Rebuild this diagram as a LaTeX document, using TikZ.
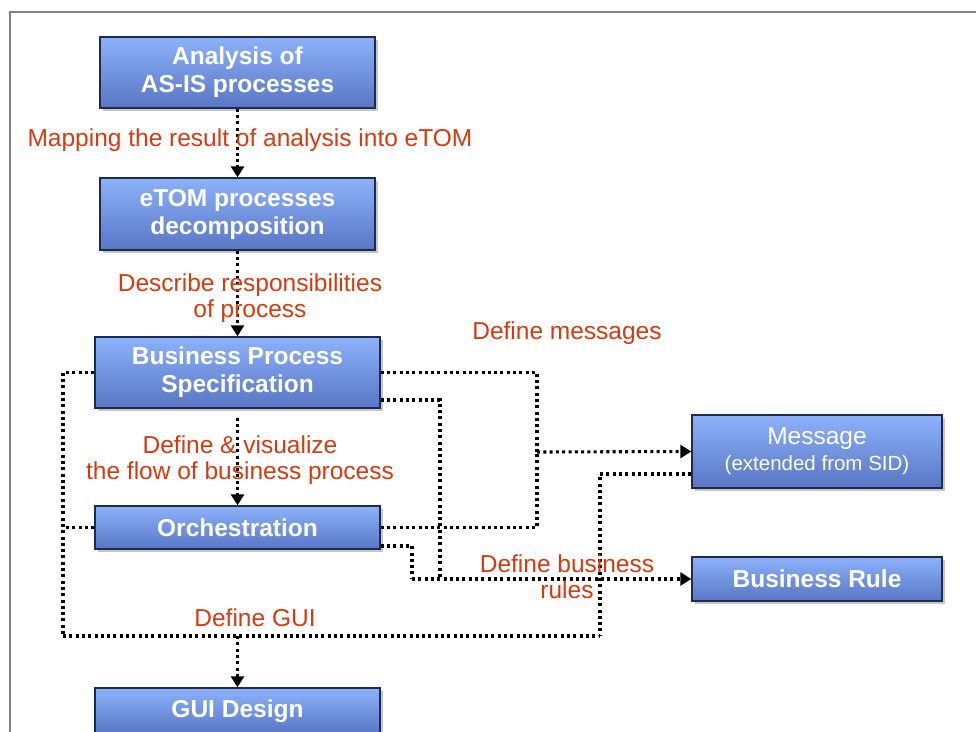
\documentclass[tikz,border=0pt]{standalone}
\usepackage{fontspec}
\setmainfont{Liberation Sans}
\usetikzlibrary{arrows.meta,shadows}

\definecolor{boxtop}{RGB}{140,178,250}
\definecolor{boxbot}{RGB}{88,118,196}
\definecolor{boxline}{RGB}{30,42,80}
\definecolor{labelred}{RGB}{214,58,16}
\definecolor{framegray}{RGB}{128,128,128}

\tikzset{
  procbox/.style={draw=boxline, line width=1.4pt, top color=boxtop, bottom color=boxbot,
    drop shadow={shadow xshift=2.5pt, shadow yshift=-2.5pt, opacity=0.45},
    text=white, align=center, inner sep=0pt,
    font=\bfseries\fontsize{24.5}{28}\selectfont},
  flow/.style={line width=3.1pt, dash pattern=on 3pt off 3.3pt, black},
  flowarrow/.style={flow, -{Triangle[length=11pt,width=13pt]}},
  steplabel/.style={text=labelred, align=center, inner sep=0pt,
    font=\fontsize{24.5}{26}\selectfont}
}

\begin{document}
\begin{tikzpicture}[x=1pt,y=-1pt]
\useasboundingbox (0,0) rectangle (976,731);

% page frame
\draw[framegray, line width=1.5pt] (10,740) -- (10,12) -- (985,12);

% process boxes
\node[procbox, minimum width=275pt, minimum height=71pt] (A) at (237.5,72.5) {Analysis of\\AS-IS processes};
\node[procbox, minimum width=275pt, minimum height=72pt] (B) at (237.5,214) {eTOM processes\\decomposition};
\node[procbox, minimum width=285pt, minimum height=71pt] (C) at (237.5,372.5) {Business Process\\Specification};
\node[procbox, minimum width=285pt, minimum height=43pt] (D) at (237.5,527.5) {Orchestration};
\node[procbox, minimum width=250pt, minimum height=73pt, font=\fontsize{24.5}{27}\selectfont] (E) at (817,451.5)
  {Message\\[-1pt]{\fontsize{20.5}{22}\selectfont(extended from SID)}};
\node[procbox, minimum width=250pt, minimum height=44pt] (F) at (817,579) {Business Rule};
\node[procbox, minimum width=285pt, minimum height=46pt] (G) at (237.5,711) {GUI Design};

% junction points of the routed connectors
\coordinate (guiL) at (63,636);
\coordinate (guiR) at (600,636);
\coordinate (msgJ) at (537,452);
\coordinate (ruleC) at (440,579);
\coordinate (ruleJ) at (412,579);

% main chain
\draw[flowarrow] (A.south) -- (B.north);
\draw[flowarrow] (B.south) -- (C.north);
\draw[flowarrow] ([yshift=-9pt]C.south) -- (D.north);

% GUI definition
\draw[flow] (C.west) -| (guiL);
\draw[flow] (D.west) -- (D.west -| guiL);
\draw[flow] (guiL) -- (guiR);
\draw[flow] ([yshift=-22.5pt]E.west) -| (guiR);
\draw[flowarrow] (G.north |- guiL) -- (G.north);

% messages
\draw[flow] (C.east) -| (msgJ);
\draw[flow] (D.east) -| (msgJ);
\draw[flowarrow] (msgJ) -- (E.west);

% business rules
\draw[flow] ([yshift=-27.5pt]C.east) -| (ruleC);
\draw[flow] ([yshift=-18.5pt]D.east) -| (ruleJ);
\draw[flowarrow] (ruleJ) -- (F.west);

% connector labels
\node[steplabel] (l1) at (250,140) {Mapping the result of analysis into eTOM};
\node[steplabel] (l2) at (250,298) {Describe responsibilities\\of process};
\node[steplabel] (l3) at (567,333) {Define messages};
\node[steplabel] (l4) at (240,460) {Define \& visualize\\the flow of business process};
\node[steplabel] (l5) at (567,577) {Define business\\rules};
\node[steplabel] (l6) at (255,618) {Define GUI};
\end{tikzpicture}
\end{document}
